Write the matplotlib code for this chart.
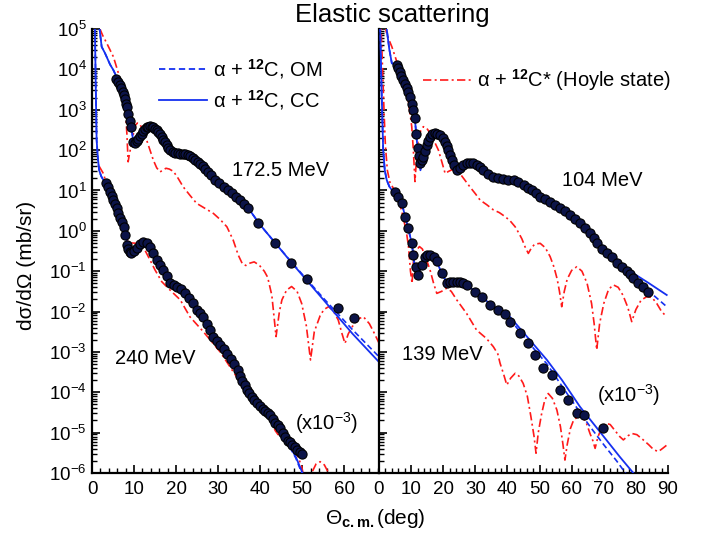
import numpy as np
import matplotlib
matplotlib.use("Agg")
import matplotlib.pyplot as plt
from matplotlib.ticker import MultipleLocator, LogLocator, NullFormatter
from matplotlib.lines import Line2D

plt.rcParams['font.family'] = ['Liberation Sans', 'DejaVu Sans']
plt.rcParams['mathtext.fontset'] = 'custom'
plt.rcParams['mathtext.rm'] = 'Liberation Sans'
plt.rcParams['mathtext.it'] = 'Liberation Sans:italic'
plt.rcParams['mathtext.bf'] = 'Liberation Sans:bold'

# ---------------- Left panel: 172.5 MeV (top) and 240 MeV (x10^-3) -------------
# values are log10(dsigma/dOmega [mb/sr])
x172_data = [5.7, 6.2, 6.7, 7.0, 7.3, 7.6, 7.9, 8.2, 8.4, 8.6, 9.0, 9.4, 9.8, 10.2, 10.6,
             11.0, 11.4, 11.8, 12.2, 12.6, 13.0, 13.4, 13.8, 14.2, 14.6, 15.0, 15.4, 15.8,
             16.2, 16.6, 17.0, 17.4, 17.8, 18.2, 18.6, 19.2, 19.8, 20.4, 21.0, 21.6, 22.2,
             22.8, 23.4, 24.0, 24.6, 25.2, 25.8, 26.4, 27.0, 27.7, 28.4, 29.3, 30.3, 31.3,
             32.3, 33.3, 34.2, 35.2, 36.2, 37.2, 39.6, 43.6, 47.3, 51.1, 58.6, 62.4]
y172_data = [3.76, 3.68, 3.61, 3.53, 3.45, 3.36, 3.27, 3.15, 3.07, 2.90, 2.72, 2.58, 2.21, 2.18,
             2.22, 2.27, 2.34, 2.41, 2.47, 2.52, 2.56, 2.58, 2.59, 2.58, 2.56, 2.53, 2.49, 2.45,
             2.40, 2.33, 2.26, 2.20, 2.13, 2.06, 2.00, 1.96, 1.93, 1.92, 1.91, 1.91, 1.90, 1.88,
             1.85, 1.81, 1.76, 1.71, 1.66, 1.60, 1.53, 1.46, 1.39, 1.27, 1.18, 1.09, 1.01, 0.93,
             0.85, 0.76, 0.66, 0.56, 0.19, -0.31, -0.80, -1.19, -1.92, -2.17]

x172_cc = [1.5, 1.8, 2.3, 3.1, 4.3, 5.1, 5.9, 7.0, 8.0, 8.8, 9.4, 9.8, 10.2, 11.0, 12.2, 13.8,
           15.4, 17.0, 18.6, 20.2, 22.5, 24.6, 27.0, 30.0, 33.3, 37.0, 40.0, 43.6, 47.5, 55.0,
           62.0, 68.3]
y172_cc = [5.3, 5.0, 4.56, 4.40, 4.12, 3.98, 3.80, 3.50, 3.15, 2.80, 2.55, 2.22, 2.20, 2.27,
           2.47, 2.59, 2.50, 2.27, 2.00, 1.92, 1.90, 1.77, 1.54, 1.22, 0.93, 0.59, 0.15, -0.30,
           -0.79, -1.70, -2.55, -3.25]
x172_om = [1.5, 1.8, 2.3, 3.1, 4.3, 5.1, 5.9, 7.0, 8.0, 8.8, 9.4, 9.8, 10.2, 11.0, 12.2, 13.8,
           15.4, 17.0, 18.6, 20.2, 22.5, 24.6, 27.0, 30.0, 33.3, 37.0, 40.0, 43.6, 47.5, 55.0,
           62.0, 68.3]
y172_om = [5.3, 5.0, 4.56, 4.40, 4.12, 3.98, 3.80, 3.50, 3.15, 2.80, 2.55, 2.22, 2.20, 2.27,
           2.47, 2.59, 2.50, 2.27, 2.00, 1.92, 1.90, 1.77, 1.54, 1.22, 0.93, 0.59, 0.15, -0.30,
           -0.78, -1.66, -2.45, -3.12]
x172_hoyle = [1.9, 2.5, 3.5, 4.3, 5.1, 6.3, 7.1, 7.9, 8.3, 8.6, 8.9, 9.4, 10.2, 10.8, 11.4,
              12.2, 13.0, 13.8, 14.6, 15.4, 16.2, 17.0, 17.6, 18.4, 19.4, 20.5, 21.7, 23.3,
              24.9, 27.0, 28.9, 30.5, 32.1, 33.6, 34.8, 35.8, 36.6, 37.6, 38.6, 39.8, 41.0,
              41.8, 42.8, 43.8, 44.6, 45.2, 46.3, 47.5, 48.8, 49.9, 51.0, 52.0, 52.9, 54.3,
              55.2, 56.3, 57.4, 58.6, 59.5, 60.2, 61.0, 62.2, 63.4, 64.6, 66.0, 67.0, 68.3]
y172_hoyle = [5.0, 4.85, 4.65, 4.48, 4.31, 3.90, 3.57, 3.07, 2.41, 1.71, 1.90, 2.15, 2.60, 2.67,
              2.64, 2.48, 2.25, 2.00, 1.75, 1.56, 1.46, 1.51, 1.55, 1.53, 1.47, 1.30, 1.09, 0.88,
              0.68, 0.55, 0.43, 0.28, 0.10, -0.23, -0.60, -0.82, -0.86, -0.80, -0.77, -0.85,
              -1.00, -1.15, -1.60, -2.62, -2.00, -1.71, -1.47, -1.38, -1.50, -1.80, -2.35, -3.20,
              -2.50, -2.10, -1.95, -1.88, -1.98, -2.21, -2.55, -2.79, -2.55, -2.33, -2.18, -2.13,
              -2.30, -2.50, -2.78]

x240_data = [3.3, 3.7, 4.3, 4.7, 5.1, 5.5, 5.9, 6.3, 6.7, 7.1, 7.5, 7.9, 8.3, 8.6, 9.0, 9.4,
             10.0, 10.6, 11.4, 12.2, 13.0, 13.8, 14.6, 15.4, 16.2, 17.0, 17.8, 18.6, 19.4,
             20.2, 21.1, 22.1, 23.1, 24.1, 25.0, 25.7, 26.5, 27.3, 28.1, 28.9, 29.7, 30.5,
             31.3, 32.1, 33.0, 33.9, 34.8, 35.3, 35.8, 36.3, 36.8, 37.4, 38.0, 38.6, 39.2,
             39.9, 40.6, 41.2, 41.8, 42.4, 43.0, 43.6, 44.2, 44.8, 45.4, 46.0, 46.6, 47.1,
             47.7, 48.3, 48.9, 49.5, 49.9]
y240_data = [1.19, 1.09, 0.97, 0.87, 0.76, 0.66, 0.56, 0.44, 0.31, 0.22, 0.10, -0.10, -0.35,
             -0.45, -0.52, -0.55, -0.50, -0.43, -0.33, -0.27, -0.30, -0.39, -0.55, -0.72,
             -0.85, -0.97, -1.13, -1.30, -1.35, -1.38, -1.45, -1.55, -1.67, -1.80, -1.95,
             -2.04, -2.13, -2.30, -2.46, -2.62, -2.73, -2.83, -2.94, -3.04, -3.18, -3.30,
             -3.45, -3.60, -3.72, -3.83, -3.94, -4.03, -4.12, -4.20, -4.27, -4.35, -4.42,
             -4.47, -4.52, -4.56, -4.65, -4.75, -4.82, -4.89, -5.00, -5.10, -5.20, -5.24,
             -5.30, -5.36, -5.42, -5.47, -5.52]
x240_cc = [0.5, 0.7, 0.9, 1.1, 1.4, 1.7, 2.2, 2.7, 3.5, 5.1, 6.7, 7.9, 8.6, 9.2, 9.8, 11.0,
           12.2, 13.8, 15.4, 17.0, 18.6, 20.2, 22.1, 24.1, 26.5, 28.9, 32.1, 34.8, 36.8,
           39.2, 41.8, 44.8, 46.6, 48.5, 50.3]
y240_cc = [5.5, 5.0, 3.5, 2.25, 1.80, 1.50, 1.35, 1.26, 1.15, 0.76, 0.31, -0.10, -0.40, -0.55,
           -0.50, -0.38, -0.28, -0.38, -0.72, -0.97, -1.28, -1.38, -1.55, -1.80, -2.13, -2.60,
           -3.04, -3.45, -3.94, -4.27, -4.52, -4.90, -5.25, -5.60, -6.05]
x240_om = x240_cc
y240_om = [5.5, 5.0, 3.5, 2.25, 1.80, 1.50, 1.35, 1.26, 1.15, 0.76, 0.31, -0.10, -0.40, -0.55,
           -0.50, -0.38, -0.28, -0.38, -0.72, -0.97, -1.28, -1.38, -1.55, -1.80, -2.13, -2.60,
           -3.04, -3.45, -3.94, -4.27, -4.52, -4.90, -5.27, -5.63, -6.10]
x240_hoyle = [1.7, 2.7, 3.5, 5.1, 6.5, 7.5, 7.9, 8.6, 9.5, 10.6, 11.6, 12.6, 13.8, 15.0, 16.6,
              18.6, 21.0, 23.3, 26.5, 30.5, 33.6, 36.0, 38.0, 40.0, 42.0, 42.8, 43.6, 44.3,
              44.9, 45.8, 46.7, 47.8, 48.7, 49.9, 50.8, 51.5, 52.5, 53.3, 54.3, 55.3, 56.3, 57.0]
y240_hoyle = [1.60, 1.42, 1.15, 0.75, 0.38, 0.10, -0.19, -0.27, -0.30, -0.31, -0.36, -0.48,
              -0.72, -0.97, -1.26, -1.47, -1.71, -2.13, -2.50, -3.00, -3.49, -3.86, -4.10,
              -4.36, -4.60, -4.73, -4.95, -5.05, -4.98, -5.10, -5.27, -5.40, -5.51, -5.84,
              -6.30, -6.50, -5.95, -5.78, -5.72, -5.80, -6.00, -6.30]

# ---------------- Right panel: 104 MeV (top) and 139 MeV (x10^-3) ----------------
x104_data = [5.5, 6.0, 6.5, 7.0, 7.6, 8.1, 8.6, 9.1, 9.7, 10.2, 10.7, 11.2, 11.6, 12.0, 12.4,
             12.8, 13.3, 13.8, 14.3, 14.9, 15.4, 15.9, 16.6, 17.4, 18.2, 19.0, 19.8, 20.6,
             21.1, 21.6, 22.1, 22.6, 23.4, 24.2, 25.2, 26.3, 27.3, 28.3, 29.3, 30.4, 31.4,
             32.5, 34.0, 35.6, 37.1, 38.7, 40.3, 41.9, 43.4, 45.0, 46.3, 47.6, 48.9, 50.2,
             51.7, 53.3, 54.8, 56.4, 58.0, 59.5, 61.0, 62.6, 64.1, 65.7, 66.8, 67.8, 69.4,
             70.9, 72.5, 74.0, 75.6, 77.2, 78.2, 79.2, 80.8, 82.3, 83.9]
y104_data = [4.11, 4.03, 3.94, 3.84, 3.74, 3.64, 3.53, 3.43, 3.32, 3.15, 2.99, 2.79, 2.40,
             2.04, 1.85, 1.67, 1.75, 1.84, 1.98, 2.13, 2.23, 2.33, 2.39, 2.42, 2.41, 2.37,
             2.30, 2.21, 2.11, 2.00, 1.87, 1.75, 1.62, 1.51, 1.56, 1.63, 1.67, 1.69, 1.67,
             1.63, 1.57, 1.51, 1.42, 1.34, 1.30, 1.28, 1.27, 1.26, 1.20, 1.13, 1.07, 1.01,
             0.93, 0.85, 0.79, 0.72, 0.64, 0.56, 0.48, 0.39, 0.29, 0.19, 0.07, -0.06, -0.18,
             -0.31, -0.44, -0.56, -0.66, -0.80, -0.90, -1.00, -1.08, -1.18, -1.30, -1.40, -1.51]
x104_cc = [1.5, 2.4, 3.2, 4.0, 5.5, 7.6, 9.7, 10.7, 11.2, 11.7, 12.3, 12.9, 13.4, 14.3, 15.9,
           17.4, 19.0, 20.6, 22.1, 23.6, 24.2, 25.2, 27.3, 29.3, 31.4, 34.0, 37.1, 40.3, 43.4,
           46.3, 50.2, 54.8, 59.5, 65.7, 70.0, 77.2, 84.1, 89.6]
y104_cc = [5.6, 5.0, 4.5, 4.15, 4.11, 3.74, 3.32, 2.99, 2.75, 2.30, 1.80, 1.50, 1.70, 1.98,
           2.33, 2.42, 2.37, 2.21, 1.87, 1.55, 1.52, 1.56, 1.67, 1.67, 1.57, 1.42, 1.30, 1.27,
           1.20, 1.07, 0.85, 0.64, 0.39, -0.08, -0.40, -0.95, -1.30, -1.59]
x104_om = x104_cc
y104_om = [5.6, 5.0, 4.5, 4.15, 4.11, 3.74, 3.32, 2.99, 2.75, 2.30, 1.80, 1.50, 1.70, 1.98,
           2.33, 2.42, 2.37, 2.21, 1.87, 1.55, 1.52, 1.56, 1.67, 1.67, 1.57, 1.42, 1.30, 1.27,
           1.20, 1.07, 0.85, 0.64, 0.38, -0.10, -0.45, -1.05, -1.50, -1.88]
x104_hoyle = [1.8, 2.5, 4.0, 5.3, 6.5, 7.8, 9.1, 10.2, 10.7, 11.2, 11.7, 12.2, 13.0, 13.8,
              14.8, 15.9, 17.2, 18.5, 19.6, 20.6, 21.6, 22.6, 23.8, 25.2, 26.8, 28.3, 30.0,
              31.5, 33.5, 35.6, 37.5, 39.3, 40.8, 42.4, 43.5, 44.5, 45.5, 46.5, 47.5, 48.5,
              50.2, 51.8, 53.3, 54.5, 55.5, 56.2, 56.9, 57.7, 58.6, 60.0, 61.6, 63.2, 64.8,
              66.2, 67.0, 67.8, 68.7, 70.0, 71.5, 73.0, 74.5, 76.0, 77.5, 78.7, 80.0, 81.6,
              83.4, 85.0, 86.5, 88.0, 89.6]
y104_hoyle = [5.1, 4.85, 4.56, 4.25, 3.90, 3.57, 3.24, 2.58, 2.00, 1.22, 1.80, 2.25, 2.48, 2.58,
              2.55, 2.42, 2.22, 2.00, 1.70, 1.42, 1.47, 1.51, 1.50, 1.42, 1.25, 1.09, 0.92,
              0.76, 0.65, 0.52, 0.45, 0.35, 0.25, 0.10, -0.05, -0.20, -0.40, -0.56, -0.42,
              -0.33, -0.31, -0.42, -0.64, -0.90, -1.20, -1.50, -1.88, -1.50, -1.20, -0.98,
              -0.89, -1.00, -1.30, -1.80, -2.30, -2.95, -2.30, -1.80, -1.45, -1.34, -1.40,
              -1.60, -1.90, -2.25, -1.95, -1.72, -1.63, -1.65, -1.80, -2.00, -2.13]

x139_data = [5.0, 6.0, 7.1, 8.1, 9.1, 10.2, 10.7, 11.5, 12.2, 13.3, 14.3, 15.1, 15.9, 17.0,
             18.0, 19.5, 21.1, 22.1, 23.2, 24.2, 25.2, 26.3, 27.3, 29.9, 32.0, 34.6, 37.2,
             39.3, 40.8, 43.9, 46.5, 48.6, 51.0, 53.8, 56.4, 59.0, 61.6, 63.9, 69.9]
y139_data = [0.97, 0.85, 0.68, 0.35, 0.06, -0.31, -0.60, -0.90, -1.10, -0.85, -0.64, -0.60,
             -0.60, -0.66, -0.76, -1.05, -1.30, -1.28, -1.26, -1.26, -1.26, -1.30, -1.34,
             -1.51, -1.63, -1.84, -1.96, -2.05, -2.25, -2.54, -2.79, -3.08, -3.41, -3.57,
             -3.94, -4.19, -4.52, -4.56, -4.89]
x139_cc = [0.3, 0.8, 1.3, 1.8, 2.4, 3.2, 4.0, 5.0, 7.1, 9.1, 10.2, 10.7, 11.3, 12.0, 12.8,
           13.5, 14.5, 15.9, 18.0, 19.5, 21.1, 23.2, 25.2, 27.3, 29.9, 32.0, 34.6, 37.2, 39.8,
           43.9, 48.0, 52.3, 57.0, 62.6, 66.0, 70.0, 75.0, 79.2, 81.0]
y139_cc = [5.3, 3.5, 2.0, 1.5, 1.26, 1.10, 1.01, 0.95, 0.68, 0.06, -0.31, -0.60, -1.00, -1.15,
           -0.95, -0.75, -0.62, -0.60, -0.76, -1.05, -1.28, -1.24, -1.26, -1.34, -1.50, -1.62,
           -1.82, -1.95, -2.04, -2.42, -2.80, -3.20, -3.70, -4.36, -4.70, -5.10, -5.60, -6.00,
           -6.20]
x139_om = [0.3, 0.8, 1.3, 1.8, 2.4, 3.2, 4.0, 5.0, 7.1, 9.1, 10.2, 10.7, 11.3, 12.0, 12.8,
           13.5, 14.5, 15.9, 18.0, 19.5, 21.1, 23.2, 25.2, 27.3, 29.9, 32.0, 34.6, 37.2, 39.8,
           43.9, 48.0, 52.3, 57.0, 62.6, 66.0, 70.0, 74.0, 77.2, 79.0]
y139_om = [5.3, 3.5, 2.0, 1.5, 1.26, 1.10, 1.01, 0.95, 0.68, 0.06, -0.31, -0.60, -1.00, -1.15,
           -0.95, -0.75, -0.62, -0.60, -0.76, -1.05, -1.28, -1.24, -1.26, -1.34, -1.50, -1.62,
           -1.83, -1.98, -2.10, -2.50, -2.90, -3.30, -3.85, -4.50, -4.88, -5.30, -5.70, -6.05,
           -6.25]
x139_hoyle = [0.5, 0.8, 1.2, 1.6, 2.0, 2.6, 3.4, 4.5, 6.0, 7.5, 8.6, 9.2, 9.8, 10.3, 10.7, 11.5,
              12.6, 13.5, 14.5, 15.9, 17.0, 18.0, 19.5, 21.1, 22.5, 24.2, 27.3, 30.4, 33.5,
              35.6, 37.0, 37.7, 38.8, 39.8, 41.0, 42.4, 43.6, 44.9, 46.2, 47.3, 48.3, 48.9,
              49.6, 50.6, 51.6, 52.7, 54.0, 55.4, 56.5, 57.3, 57.9, 58.6, 59.6, 60.6, 62.6,
              64.4, 65.7, 66.6, 67.3, 68.2, 69.5, 70.8, 72.0, 73.5, 75.0, 76.1, 77.5, 78.7,
              80.3, 82.3, 84.0, 85.5, 87.0, 88.5, 89.6]
y139_hoyle = [5.3, 4.73, 3.80, 2.90, 2.10, 1.50, 1.20, 1.05, 0.80, 0.35, -0.06, -0.40, -1.00,
              -1.30, -0.77, -0.50, -0.39, -0.45, -0.65, -0.97, -1.30, -1.55, -1.50, -1.42,
              -1.50, -1.71, -2.05, -2.46, -2.67, -2.87, -3.05, -3.28, -3.55, -3.82, -3.65,
              -3.53, -3.60, -3.78, -4.10, -4.60, -5.10, -5.51, -5.00, -4.55, -4.20, -4.03,
              -4.15, -4.44, -4.85, -5.30, -5.68, -5.30, -4.90, -4.69, -4.56, -4.72, -5.02,
              -5.20, -5.39, -5.10, -4.85, -4.77, -4.80, -4.95, -5.10, -5.18, -5.08, -5.02,
              -5.05, -5.18, -5.30, -5.42, -5.47, -5.38, -5.31]

x_ticks_left = [0, 10, 20, 30, 40, 50, 60]
x_ticks_right = [0, 10, 20, 30, 40, 50, 60, 70, 80, 90]

# ---------------- styles ----------------
BLUE = '#1530f0'
RED = '#ff1a1a'
PT_FACE = '#0c1448'
dashdot = (0, (5, 2, 1.2, 2))
om_dash = (0, (3.5, 2))

W, H = 708, 545
fig = plt.figure(figsize=(W / 100, H / 100), dpi=100)

def fx(px):
    return px / W

def fy(py):
    return 1 - py / H

y_top, y_bot = 29, 473
axL = fig.add_axes([fx(92), fy(y_bot), fx(379) - fx(92), fy(y_top) - fy(y_bot)])
axR = fig.add_axes([fx(379), fy(y_bot), fx(668) - fx(379), fy(y_top) - fy(y_bot)])

def p(v):
    return 10 ** np.asarray(v, dtype=float)

def draw(ax, curves, datasets):
    for (xo, yo), (xc, yc), (xh, yh) in curves:
        ax.plot(xh, p(yh), color=RED, lw=1.2, linestyle=dashdot, zorder=2)
        ax.plot(xo, p(yo), color=BLUE, lw=1.2, linestyle=om_dash, zorder=3)
        ax.plot(xc, p(yc), color=BLUE, lw=1.3, linestyle='-', zorder=3)
    for xd, yd in datasets:
        ax.plot(xd, p(yd), 'o', ms=6.6, mfc=PT_FACE, mec='black', mew=0.8, zorder=4)

draw(axL,
     [((x172_om, y172_om), (x172_cc, y172_cc), (x172_hoyle, y172_hoyle)),
      ((x240_om, y240_om), (x240_cc, y240_cc), (x240_hoyle, y240_hoyle))],
     [(x172_data, y172_data), (x240_data, y240_data)])
draw(axR,
     [((x104_om, y104_om), (x104_cc, y104_cc), (x104_hoyle, y104_hoyle)),
      ((x139_om, y139_om), (x139_cc, y139_cc), (x139_hoyle, y139_hoyle))],
     [(x104_data, y104_data), (x139_data, y139_data)])

for ax, xmax, ticks in [(axL, 68.3, x_ticks_left), (axR, 90, x_ticks_right)]:
    ax.set_yscale('log')
    ax.set_ylim(1e-6, 1e5)
    ax.set_xlim(0, xmax)
    ax.set_xticks(ticks)
    ax.xaxis.set_minor_locator(MultipleLocator(2))
    ax.yaxis.set_major_locator(LogLocator(base=10, numticks=20))
    ax.yaxis.set_minor_locator(LogLocator(base=10, subs=np.arange(2, 10), numticks=20))
    ax.yaxis.set_minor_formatter(NullFormatter())
    for s in ['top', 'right']:
        ax.spines[s].set_visible(False)
    for s in ['left', 'bottom']:
        ax.spines[s].set_linewidth(1.6)
    ax.tick_params(which='major', direction='in', length=6, width=1.2, labelsize=13.5,
                   top=False, right=False, pad=6)
    ax.tick_params(which='minor', direction='in', length=3.5, width=1.0,
                   top=False, right=False)
    ax.patch.set_alpha(0)

axR.tick_params(axis='y', which='both', labelleft=False)
axL.tick_params(axis='y', which='major', pad=4)

# legends
h_om = Line2D([], [], color=BLUE, lw=1.3, linestyle=om_dash)
h_cc = Line2D([], [], color=BLUE, lw=1.3, linestyle='-')
h_ho = Line2D([], [], color=RED, lw=1.2, linestyle=dashdot)
legL = axL.legend([h_om, h_cc],
                  [r'α + $^{\mathbf{12}}$C, OM', r'α + $^{\mathbf{12}}$C, CC'],
                  loc='upper left', bbox_to_anchor=(fx(159), fy(57)),
                  bbox_transform=fig.transFigure, frameon=False, fontsize=14.5,
                  handlelength=2.4, handletextpad=0.3, labelspacing=0.35,
                  borderaxespad=0, borderpad=0)
legR = axR.legend([h_ho], [r'α + $^{\mathbf{12}}$C* (Hoyle state)'],
                  loc='upper left', bbox_to_anchor=(fx(423), fy(67)),
                  bbox_transform=fig.transFigure, frameon=False, fontsize=14.5,
                  handlelength=2.4, handletextpad=0.3, borderaxespad=0, borderpad=0)

# annotations
fig.text(fx(232), fy(170), '172.5 MeV', fontsize=14.5, ha='left', va='center')
fig.text(fx(115), fy(358), '240 MeV', fontsize=14.5, ha='left', va='center')
fig.text(fx(295), fy(423), r'(x10$^{-3}$)', fontsize=14.5, ha='left', va='center')
fig.text(fx(562), fy(181), '104 MeV', fontsize=14.5, ha='left', va='center')
fig.text(fx(402), fy(354), '139 MeV', fontsize=14.5, ha='left', va='center')
fig.text(fx(597), fy(395), r'(x10$^{-3}$)', fontsize=14.5, ha='left', va='center')

fig.text(fx(392), fy(15), 'Elastic scattering', fontsize=18.5, ha='center', va='center')
fig.text(fx(27), fy(265), 'dσ/dΩ (mb/sr)', fontsize=15, rotation=90, ha='center', va='center')
fig.text(fx(375), fy(518), r'Θ$_{\mathbf{c.m.}}$(deg)', fontsize=15, ha='center', va='center')

fig.savefig('out.png', dpi=100)
